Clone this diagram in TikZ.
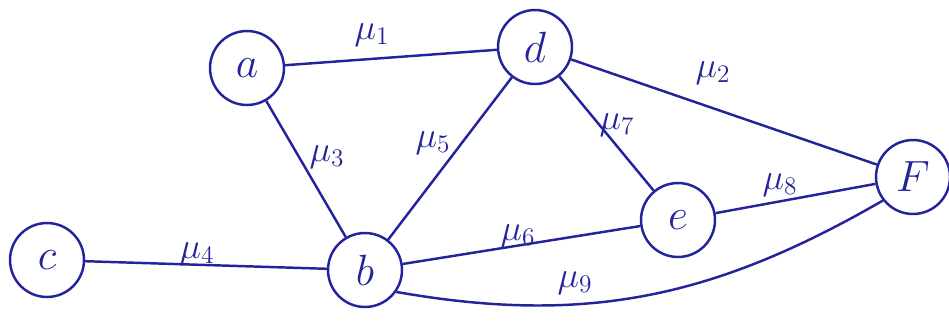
\documentclass[tikz,border=0pt]{standalone}
\usepackage{amssymb}
\usetikzlibrary{arrows.meta,calc}
\definecolor{ink}{RGB}{35,35,155}
\begin{document}
\begin{tikzpicture}[x=.02cm,y=-.02cm,
vx/.style={draw=ink,circle,line width=1.4pt,minimum size=1.48cm,inner sep=0pt,text=ink,font=\fontsize{28}{30}\selectfont},
ln/.style={draw=ink,line width=1.4pt},
lbl/.style={text=ink,font=\fontsize{22}{24}\selectfont}]
\useasboundingbox(0,0)rectangle(949,322);
\node[vx](a)at(247,68){$a$};\node[vx](d)at(535,47){$d$};\node[vx](f)at(913,177){$F$};
\node[vx](e)at(678,220){$e$};\node[vx](b)at(365,270){$b$};\node[vx](c)at(47,260){$c$};
\draw[ln](a)--(d);\draw[ln](d)--(f);\draw[ln](a)--(b);\draw[ln](d)--(b);
\draw[ln](d)--(e);\draw[ln](e)--(f);\draw[ln](b)--(e);\draw[ln](c)--(b);
\draw[ln](b.-35)to[out=-10,in=210](f.218);
\node[lbl](m1)at(372,35){$\mu_1$};\node[lbl](m2)at(713,73){$\mu_2$};
\node[lbl](m3)at(327,157){$\mu_3$};\node[lbl](m4)at(197,254){$\mu_4$};
\node[lbl](m5)at(433,143){$\mu_5$};\node[lbl](m6)at(518,236){$\mu_6$};
\node[lbl](m7)at(617,125){$\mu_7$};\node[lbl](m8)at(780,185){$\mu_8$};
\node[lbl](m9)at(575,283){$\mu_9$};
\end{tikzpicture}
\end{document}
